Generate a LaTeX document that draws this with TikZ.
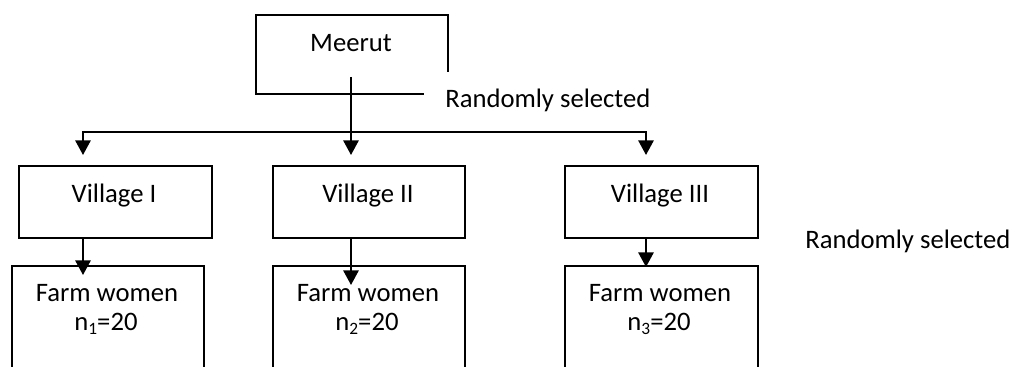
\documentclass[tikz,border=0pt]{standalone}
\usepackage{fontspec}
\setmainfont{Carlito}
\usetikzlibrary{arrows.meta}
\newcommand\subn[1]{\raisebox{-3pt}{\fontsize{13}{13}\selectfont #1}}
\begin{document}
\begin{tikzpicture}[x=0.75pt,y=-0.75pt,
 box/.style={draw, line width=1.5pt, rectangle, inner sep=0pt, anchor=north west, fill=white},
 txt/.style={anchor=base, inner sep=0pt, font=\fontsize{20}{24}\selectfont},
 arr/.style={line width=1.5pt, line join=miter, -{Triangle[width=11.5pt,length=11pt]}},
 cover/.style={fill=white, anchor=base west, inner xsep=15.75pt, inner ysep=7pt, text height=20pt, text depth=5pt, font=\fontsize{20}{24}\selectfont}]
\useasboundingbox (0,0) rectangle (1020,367);
\clip (0,0) rectangle (1020,367);
% top box
\node[box, minimum width=192*0.75pt, minimum height=79*0.75pt] (meerut) at (255,14) {};
\node[txt] (meerutt) at (351,52) {Meerut};
\node[cover] (sel1) at (424,108) {Randomly selected};
% villages
\node[box, minimum width=193*0.75pt, minimum height=72*0.75pt] (v1) at (18,165) {};
\node[box, minimum width=192*0.75pt, minimum height=72*0.75pt] (v2) at (272,165) {};
\node[box, minimum width=193*0.75pt, minimum height=72*0.75pt] (v3) at (564,165) {};
\node[txt] (v1t) at (114,202) {Village I};
\node[txt] (v2t) at (368,202) {Village II};
\node[txt] (v3t) at (660,202) {Village III};
% farm women
\node[box, minimum width=192*0.75pt, minimum height=140*0.75pt] (f1) at (11,265) {};
\node[box, minimum width=192*0.75pt, minimum height=140*0.75pt] (f2) at (272,265) {};
\node[box, minimum width=193*0.75pt, minimum height=140*0.75pt] (f3) at (564,265) {};
\node[txt] (f1t) at (107,301) {Farm women};
\node[txt] (f2t) at (368,301) {Farm women};
\node[txt] (f3t) at (660,301) {Farm women};
\node[txt] (f1n) at (106,330) {n\subn{1}=20};
\node[txt] (f2n) at (367,330) {n\subn{2}=20};
\node[txt] (f3n) at (659,330) {n\subn{3}=20};
\node[txt, anchor=base west] (sel2) at (805,248) {Randomly selected};
% connector coordinates
\coordinate (top) at (351,77);
\coordinate (j) at (351,132);
\coordinate (b1) at (83,132);
\coordinate (b3) at (646,132);
\coordinate (t1) at (83,155);
\coordinate (t2) at (351,155);
\coordinate (t3) at (646,155);
\coordinate (s1) at (83,237);
\coordinate (s2) at (351,237);
\coordinate (s3) at (646,237);
\coordinate (e1) at (83,275);
\coordinate (e2) at (351,285);
\coordinate (e3) at (646,267);
\draw[arr] (top) -- (t2);
\draw[arr] (j) -- (b1) -- (t1);
\draw[arr] (j) -- (b3) -- (t3);
\draw[arr] (s1) -- (e1);
\draw[arr] (s2) -- (e2);
\draw[arr] (s3) -- (e3);
\end{tikzpicture}
\end{document}
